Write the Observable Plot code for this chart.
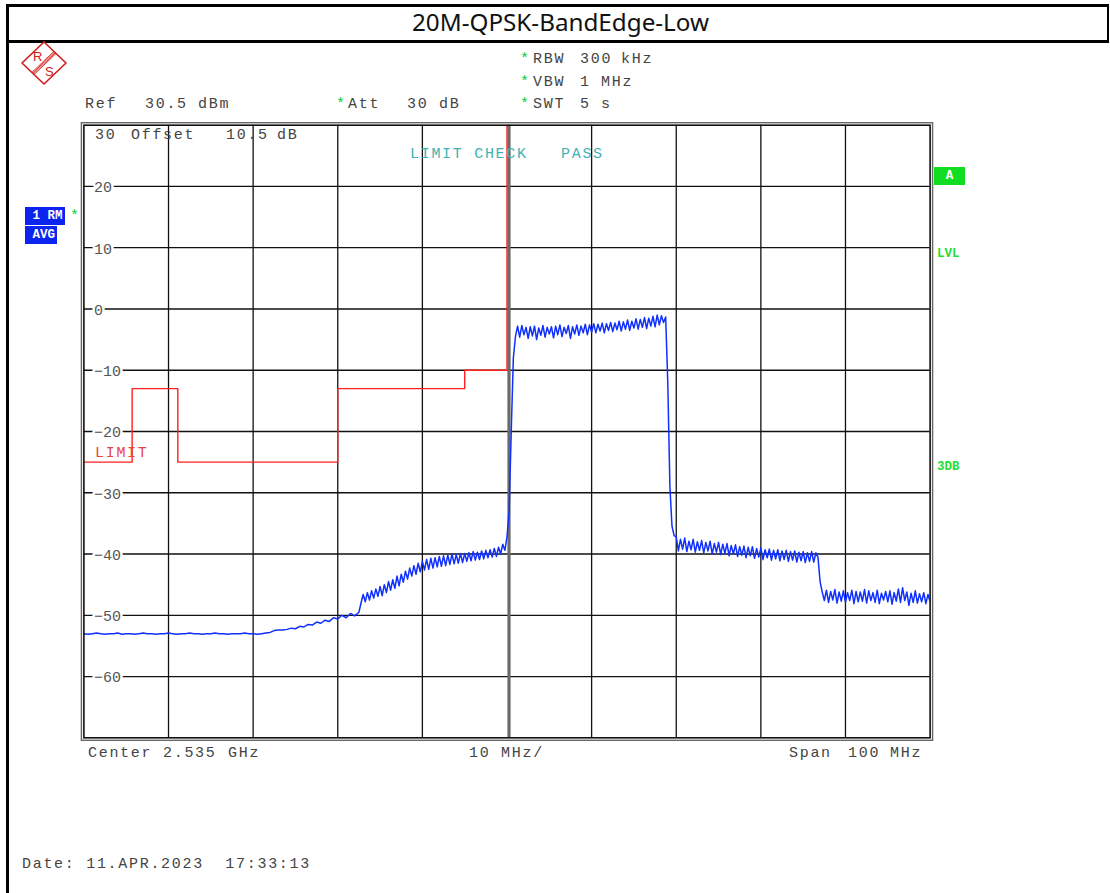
<!DOCTYPE html>
<html>
<head>
<meta charset="utf-8">
<script src="https://cdn.jsdelivr.net/npm/d3@7"></script>
<script src="https://cdn.jsdelivr.net/npm/@observablehq/plot@0.6"></script>
<style>
  body { margin: 0; background: #fff; }
  #page { position: relative; width: 1110px; height: 893px; background: #fff; overflow: hidden; }
  #chart { position: absolute; left: 0; top: 0; }
  .m { position: absolute; font-family: "Liberation Mono", "DejaVu Sans Mono", monospace; font-size: 15px; line-height: 16px; letter-spacing: 1.7px; color: #444; white-space: pre; }
  .g { color: #00cc33; letter-spacing: 0; }
  .bx { position: absolute; font-family: "Liberation Mono", monospace; font-weight: bold; font-size: 12.5px; line-height: 18px; color: #fff; white-space: pre; }
  .ln { position: absolute; background: #000; }
</style>
</head>
<body>
<div id="page">
  <div id="chart"></div>

  <!-- page borders -->
  <div class="ln" style="left:6px;top:4px;width:1103px;height:2.5px"></div>
  <div class="ln" style="left:6px;top:40px;width:1103px;height:2.5px"></div>
  <div class="ln" style="left:6px;top:4px;width:2.5px;height:889px"></div>
  <div class="ln" style="left:1106.5px;top:4px;width:2.5px;height:38px"></div>

  <svg style="position:absolute;left:0;top:0" width="1110" height="42">
    <text x="560.5" y="31" text-anchor="middle" font-family="Noto Sans, Open Sans, sans-serif" font-size="23" textLength="297" lengthAdjust="spacingAndGlyphs" fill="#111">20M-QPSK-BandEdge-Low</text>
  </svg>

  <!-- R&S logo -->
  <svg style="position:absolute;left:20px;top:40px" width="48" height="46" viewBox="0 0 48 46">
    <polygon points="24,2 46,23 24,44 2,23" fill="none" stroke="#d42020" stroke-width="1.7" stroke-linejoin="round"/>
    <g stroke="#d42020" stroke-width="0.9">
      <line x1="33.9" y1="11.4" x2="11.9" y2="32.4"/>
      <line x1="34.6" y1="12.1" x2="12.6" y2="33.1"/>
      <line x1="35.3" y1="12.9" x2="13.3" y2="33.9"/>
      <line x1="36.0" y1="13.6" x2="14.0" y2="34.6"/>
    </g>
    <text x="13" y="21" font-family="Liberation Sans, sans-serif" font-size="13" fill="#d42020">R</text>
    <text x="25" y="36" font-family="Liberation Sans, sans-serif" font-size="13" fill="#d42020">S</text>
  </svg>

  <!-- header -->
  <div class="m g" style="left:520px;top:52px">*</div>
  <div class="m" style="left:533px;top:52px">RBW</div>
  <div class="m" style="left:580px;top:52px">300</div>
  <div class="m" style="left:621px;top:52px">kHz</div>
  <div class="m g" style="left:520px;top:75px">*</div>
  <div class="m" style="left:533px;top:75px">VBW</div>
  <div class="m" style="left:580px;top:75px">1</div>
  <div class="m" style="left:601px;top:75px">MHz</div>
  <div class="m g" style="left:520px;top:97px">*</div>
  <div class="m" style="left:533px;top:97px">SWT</div>
  <div class="m" style="left:580px;top:97px">5</div>
  <div class="m" style="left:601px;top:97px">s</div>

  <div class="m" style="left:85px;top:97px">Ref</div>
  <div class="m" style="left:145px;top:97px">30.5</div>
  <div class="m" style="left:198px;top:97px">dBm</div>
  <div class="m g" style="left:336px;top:97px">*</div>
  <div class="m" style="left:348px;top:97px">Att</div>
  <div class="m" style="left:407px;top:97px">30</div>
  <div class="m" style="left:439px;top:97px">dB</div>

  <div class="m" style="left:95px;top:128px">30</div>
  <div class="m" style="left:131px;top:128px">Offset</div>
  <div class="m" style="left:226px;top:128px">10.5</div>
  <div class="m" style="left:277px;top:128px">dB</div>

  <div class="m" style="left:410px;top:147px;color:#3fb3b3">LIMIT CHECK</div>
  <div class="m" style="left:561px;top:147px;color:#3fb3b3">PASS</div>
  <div class="m" style="left:95px;top:446px;color:#e84545">LIMIT</div>

  <!-- left labels -->
  <div class="bx" style="left:25px;top:207px;width:40px;background:#0b24f0"> 1 RM</div>
  <div class="m g" style="left:70px;top:209px">*</div>
  <div class="bx" style="left:25px;top:226px;width:32px;background:#0b24f0"> AVG</div>

  <!-- right labels -->
  <div class="bx" style="left:934px;top:167px;width:31px;height:18px;background:#11dd22;text-align:center">A</div>
  <div class="bx" style="left:937px;top:245px;color:#22dd33">LVL</div>
  <div class="bx" style="left:937px;top:458px;color:#22dd33">3DB</div>

  <!-- bottom -->
  <div class="m" style="left:88px;top:746px">Center</div>
  <div class="m" style="left:163px;top:746px">2.535</div>
  <div class="m" style="left:228px;top:746px">GHz</div>
  <div class="m" style="left:469px;top:746px">10 MHz/</div>
  <div class="m" style="left:789px;top:746px">Span</div>
  <div class="m" style="left:848px;top:746px">100</div>
  <div class="m" style="left:890px;top:746px">MHz</div>

  <div class="m" style="left:22px;top:857px">Date: 11.APR.2023  17:33:13</div>
</div>

<script>
// ---------- data (frequency in MHz, level in dBm) ----------
const startMHz = 2485;
const stopMHz = 2585;
const centerMHz = 2535;
const gridFreqs = [2495, 2505, 2515, 2525, 2545, 2555, 2565, 2575];
const levelTicks = [20, 10, 0, -10, -20, -30, -40, -50, -60];

// limit line corner points (step-after)
const limitFreq  = [2485, 2490.7, 2496.1, 2515, 2530, 2535];
const limitLevel = [-25, -13, -25, -13, -10, 30];

// trace segments: start frequency, step, values
const floorLow = [
  -53.0,-53.1,-53.0,-52.9,-53.0,-53.1,-53.0,-53.0,-52.9,-53.1,
  -53.0,-53.0,-53.1,-53.0,-52.9,-53.0,-53.0,-53.1,-53.0,-53.0,
  -52.9,-53.0,-53.1,-53.0,-53.0,-52.9,-53.0,-53.0,-53.1,-53.0,
  -53.0,-52.9,-53.0,-53.0,-53.1,-53.0,-53.0,-53.0,-52.9,-53.0,
  -53.0,-53.1,-53.0,-52.9];                                     // 2485 .. 2506.5, 0.5
const riseGentle = [
  -52.8,-52.5,-52.4,-52.4,-52.3,-52.1,-52.2,-51.8,-51.9,-51.5,
  -51.6,-51.1,-51.3,-50.8,-51.0,-50.4,-50.6,-50.0,-50.4,-49.7,
  -50.1,-49.5];                                                 // 2507 .. 2517.5, 0.5
const riseNoisy = [
  -48.0,-46.6,-47.8,-46.3,-47.5,-46.0,-47.2,-45.7,-46.9,-45.3,
  -46.8,-45.0,-46.3,-44.5,-45.9,-44.2,-45.6,-43.6,-45.2,-43.3,
  -44.6,-42.8,-44.1,-42.3,-43.6,-41.9,-43.3,-41.5,-42.9,-41.2,
  -42.6,-40.9,-42.5,-40.7,-42.3,-40.6,-42.1,-40.4,-42.0,-40.3,
  -41.9,-40.2,-41.7,-40.0,-41.6,-40.1,-41.5,-39.9,-41.4,-39.9,
  -41.2,-39.8,-41.1,-39.6,-41.0,-39.7,-40.9,-39.5,-40.8,-39.4,
  -40.6,-39.3,-40.5,-39.1,-40.4,-38.9,-40.0,-38.4,-39.4];       // 2517.75 .. 2534.75, 0.25
const leftEdge = [-37.2,-33.0,-20.0,-8.0,-4.5];                 // 2535 .. 2536, 0.25
const channel = [
  -2.8,-4.6,-2.7,-4.2,-3.0,-4.8,-2.9,-4.4,-2.8,-5.0,
  -3.1,-4.3,-2.7,-4.6,-3.0,-4.1,-2.9,-4.7,-2.8,-4.2,
  -2.6,-4.5,-3.0,-4.0,-2.7,-4.8,-2.9,-4.1,-2.6,-4.3,
  -2.8,-3.9,-2.5,-4.2,-2.6,-3.8,-2.4,-3.9,-2.5,-3.6,
  -2.3,-3.9,-2.4,-3.5,-2.2,-3.7,-2.3,-3.4,-2.0,-3.6,
  -2.1,-3.3,-1.8,-3.5,-2.0,-3.1,-1.6,-3.3,-1.7,-3.0,
  -1.4,-3.2,-1.5,-2.8,-1.2,-2.9,-1.0,-2.6,-1.1,-2.2];           // 2536.25 .. 2553.5, 0.25
const rightEdge = [-1.3,-12.0,-29.0,-35.5,-37.0];               // 2553.75 .. 2554.75, 0.25
const shoulder = [
  -37.2,-39.5,-37.6,-39.2,-37.4,-39.6,-37.9,-39.3,-37.6,-39.7,
  -38.0,-39.4,-37.8,-39.8,-38.1,-39.5,-37.9,-40.0,-38.3,-39.7,
  -38.1,-40.1,-38.4,-39.9,-38.3,-40.3,-38.6,-40.0,-38.5,-40.4,
  -38.8,-40.2,-38.7,-40.6,-38.9,-40.3,-38.8,-40.7,-39.1,-40.5,
  -39.0,-40.9,-39.3,-40.6,-39.2,-41.0,-39.4,-40.8,-39.3,-41.1,
  -39.5,-40.9,-39.4,-41.2,-39.6,-41.0,-39.5,-41.3,-39.7,-41.1,
  -39.6,-41.4,-39.8,-41.2,-39.6,-41.3,-39.8];                   // 2555 .. 2571.5, 0.25
const stepDown = [-40.5,-44.5,-46.2];                           // 2571.75 .. 2572.25, 0.25
const floorHigh = [
  -47.6,-45.9,-47.9,-46.1,-47.5,-45.8,-48.0,-46.2,-47.7,-46.0,
  -47.9,-46.3,-47.6,-45.9,-48.1,-46.1,-47.8,-46.2,-47.7,-45.8,
  -48.0,-46.0,-47.6,-46.3,-47.9,-45.9,-48.1,-46.4,-47.5,-46.1,
  -47.8,-46.0,-48.2,-46.3,-47.7,-45.7,-47.9,-45.5,-47.6,-46.2,
  -48.4,-46.4,-47.9,-46.0,-48.0,-46.5,-47.8,-46.3,-48.1,-46.6,
  -47.8];                                                       // 2572.5 .. 2585, 0.25

const segments = [
  {start: 2485,    step: 0.5,  values: floorLow},
  {start: 2507,    step: 0.5,  values: riseGentle},
  {start: 2517.75, step: 0.25, values: riseNoisy},
  {start: 2535,    step: 0.25, values: leftEdge},
  {start: 2536.25, step: 0.25, values: channel},
  {start: 2553.75, step: 0.25, values: rightEdge},
  {start: 2555,    step: 0.25, values: shoulder},
  {start: 2571.75, step: 0.25, values: stepDown},
  {start: 2572.5,  step: 0.25, values: floorHigh}
];

// ---------- build tables ----------
const trace = segments.flatMap(s => s.values.map((v, i) => ({f: s.start + i * s.step, db: v})));
const limit = limitFreq.map((f, i) => ({f, db: limitLevel[i]}));
const fmt = d3.format("d");
const mono = "Liberation Mono, DejaVu Sans Mono, monospace";

const chart = Plot.plot({
  width: 1110,
  height: 893,
  marginLeft: 83.4,
  marginRight: 180.4,
  marginTop: 124.7,
  marginBottom: 155.7,
  x: {domain: [startMHz, stopMHz], axis: null},
  y: {domain: [-70, 30], axis: null},
  style: {background: "transparent", overflow: "visible"},
  marks: [
    Plot.ruleX(gridFreqs, {stroke: "#111", strokeWidth: 1.3}),
    Plot.ruleY(levelTicks, {stroke: "#111", strokeWidth: 1.3}),
    Plot.ruleX([centerMHz], {stroke: "#6a6a6a", strokeWidth: 3.2, dx: 2}),
    Plot.text(levelTicks, {
      x: () => startMHz, y: d => d, text: d => fmt(d),
      dx: 10, dy: 1, textAnchor: "start", fill: "#555",
      stroke: "white", strokeWidth: 5,
      fontFamily: mono, fontSize: 15
    }),
    Plot.line(limit, {x: "f", y: "db", curve: "step-after", stroke: "#ff2020", strokeWidth: 1.4, clip: true}),
    Plot.line(trace, {x: "f", y: "db", stroke: "#1030ff", strokeWidth: 1.5, clip: true}),
    Plot.frame({stroke: "#111", strokeWidth: 1.6}),
    Plot.frame({stroke: "#666", strokeWidth: 1.4, inset: -2.5})
  ]
});
document.getElementById("chart").appendChild(chart);
</script>
</body>
</html>
